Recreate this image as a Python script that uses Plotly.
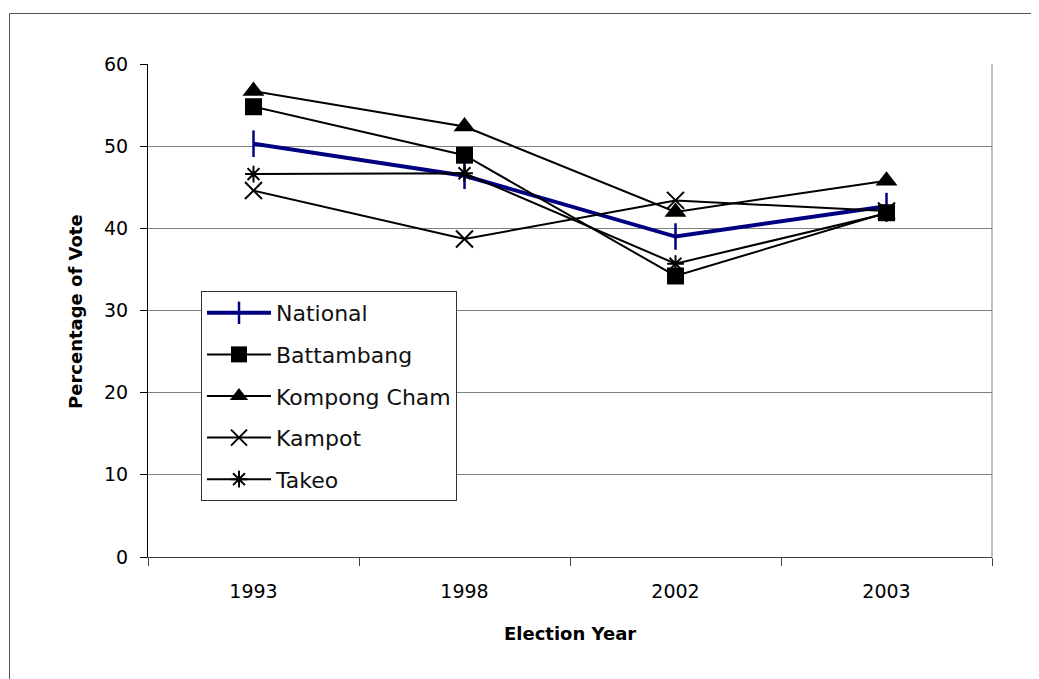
import plotly.graph_objects as go

years = ["1993", "1998", "2002", "2003"]
national = [50.3, 46.4, 39.0, 42.7]
battambang = [54.8, 48.9, 34.2, 41.9]
kompong_cham = [56.7, 52.4, 42.0, 45.8]
kampot = [44.6, 38.7, 43.4, 42.1]
takeo = [46.6, 46.7, 35.7, 41.8]

series = [
    ("National", national, "#000080", 4, "line-ns", 19, 2.5),
    ("Battambang", battambang, "#000000", 2, "square", 17, 0),
    ("Kompong Cham", kompong_cham, "#000000", 2, "triangle-up", 19, 0),
    ("Kampot", kampot, "#000000", 2, "x-thin", 17, 2),
    ("Takeo", takeo, "#000000", 2, "asterisk", 14, 2),
]

fig = go.Figure()
for i, (name, vals, color, lw, sym, ms, mlw) in enumerate(series):
    fig.add_trace(go.Scatter(
        x=years, y=vals, name=name, mode="lines+markers",
        legendgroup=f"g{i}",
        line=dict(color=color, width=lw),
        marker=dict(symbol=sym, size=ms, color=color,
                    line=dict(color=color, width=mlw)),
    ))

# page body has an 8px margin; work in screen pixels and shift
OFF = 8
W, H = 1039 - OFF, 679 - OFF
L, R, T, B = 148 - OFF, 992 - OFF, 64 - OFF, 557 - OFF
def px(x):
    return (x - OFF - L) / (R - L)
def py(y):
    return (B - (y - OFF)) / (B - T)

fig.update_layout(
    width=W, height=H,
    margin=dict(l=L, r=W - R, t=T, b=H - B),
    paper_bgcolor="white", plot_bgcolor="white",
    font=dict(family="DejaVu Sans", size=19, color="#000000"),
    showlegend=True,
    legend=dict(
        x=px(201), y=py(291), xanchor="left", yanchor="top",
        bgcolor="white", bordercolor="#333333", borderwidth=1,
        font=dict(family="DejaVu Sans", size=22, color="#111111"),
        tracegroupgap=10, itemwidth=64, entrywidth=262, entrywidthmode="pixels",
    ),
    xaxis=dict(
        type="category", range=[-0.5, len(years) - 0.5],
        tickson="boundaries", ticks="outside", ticklen=8,
        tickcolor="#404040", showline=True, linecolor="#404040", linewidth=1,
        showgrid=False, ticklabelstandoff=17,
        tickfont=dict(family="DejaVu Sans", size=19),
    ),
    yaxis=dict(
        range=[0, 60], dtick=10, ticks="outside", ticklen=7,
        tickcolor="#000000", showline=True, linecolor="#000000", linewidth=1,
        showgrid=True, gridcolor="#808080", gridwidth=1, zeroline=False,
        ticklabelstandoff=8,
        tickfont=dict(family="DejaVu Sans", size=19),
    ),
    annotations=[
        dict(text="<b>Percentage of Vote</b>", textangle=-90,
             x=px(75), y=py(312), xref="paper", yref="paper",
             showarrow=False, xanchor="center", yanchor="middle",
             font=dict(family="DejaVu Sans", size=18, color="#000000")),
        dict(text="<b>Election Year</b>",
             x=px(570), y=py(633), xref="paper", yref="paper",
             showarrow=False, xanchor="center", yanchor="middle",
             font=dict(family="DejaVu Sans", size=18, color="#000000")),
    ],
    shapes=[
        dict(type="line", xref="paper", yref="paper", x0=1, x1=1, y0=0, y1=1,
             line=dict(color="#808080", width=1), layer="below"),
        dict(type="rect", xref="paper", yref="paper",
             x0=px(9.5), x1=px(1060), y0=py(700), y1=py(13.5),
             line=dict(color="#555555", width=1), layer="below"),
    ],
)

fig.write_html("out.html")
